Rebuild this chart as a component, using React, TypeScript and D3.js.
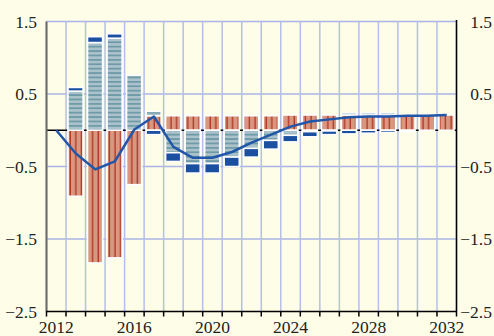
import React from "react";
import * as d3 from "d3";

const years = ["2012","2013","2014","2015","2016","2017","2018","2019","2020","2021","2022","2023","2024","2025","2026","2027","2028","2029","2030","2031","2032"];
// red, vertically striped series
const seriesRed = [0, -0.91, -1.83, -1.76, -0.75, 0.2, 0.2, 0.2, 0.2, 0.2, 0.2, 0.2, 0.21, 0.21, 0.21, 0.21, 0.21, 0.21, 0.21, 0.21, 0.21];
// blue-grey, horizontally striped series
const seriesGrey = [0, 0.54, 1.21, 1.27, 0.76, 0.06, -0.31, -0.46, -0.46, -0.37, -0.25, -0.14, -0.07, -0.02, -0.01, 0.03, 0.03, 0.03, 0, 0, 0];
// dark blue solid series
const seriesBlue = [0, 0.05, 0.08, 0.06, 0, -0.06, -0.12, -0.13, -0.13, -0.13, -0.12, -0.12, -0.09, -0.07, -0.05, -0.05, -0.04, -0.03, -0.02, 0, 0];
// total line
const lineTotal = [0, -0.32, -0.54, -0.43, 0.01, 0.19, -0.23, -0.38, -0.38, -0.30, -0.17, -0.06, 0.05, 0.12, 0.15, 0.18, 0.19, 0.19, 0.20, 0.20, 0.21];
const yTicks = [1.5, 0.5, -0.5, -1.5, -2.5];
const xLabels = ["2012", "2016", "2020", "2024", "2028", "2032"];

const W = 494, H = 336;
const BG = "#fefde7";

export default function App() {
  const x = d3.scaleBand<string>().domain(years).range([46.5, 456.5]).padding(0);
  const y = d3.scaleLinear().domain([-2.5, 1.5]).range([311.5, 21.5]);
  const bw = x.bandwidth();

  const table = years.map((yr, i) => ({ year: yr, red: seriesRed[i], grey: seriesGrey[i], blue: seriesBlue[i] }));
  const keys = ["red", "grey", "blue"];
  const stacked = d3.stack<any>().keys(keys).offset(d3.stackOffsetDiverging)(table);
  const fills: Record<string, string> = { red: "url(#redPat)", grey: "url(#greyPat)", blue: "#1b4f9f" };

  const line = d3.line<number>()
    .x((_, i) => (x(years[i]) as number) + bw / 2)
    .y((d) => y(d));

  const bounds = years.map((yr) => x(yr) as number).concat([(x(years[years.length - 1]) as number) + bw]);
  const textStyle = { fontFamily: '"Liberation Serif", "Times New Roman", Times, serif', fontSize: "17.5px" };

  return (
    <svg width={W} height={H} style={{ position: "absolute", left: 0, top: 0, background: BG }}>
      <defs>
        <pattern id="redPat" patternUnits="userSpaceOnUse" width={5.6} height={10}>
          <rect width={5.6} height={10} fill="#d9977f" />
          <rect x={2.4} width={1.3} height={10} fill="#ad3424" />
        </pattern>
        <pattern id="greyPat" patternUnits="userSpaceOnUse" width={10} height={4.4}>
          <rect width={10} height={4.4} fill="#abc2ca" />
          <rect y={2} width={10} height={1.3} fill="#5a8c9b" />
        </pattern>
      </defs>
      <rect width={W} height={H} fill={BG} />
      {/* gridlines */}
      {yTicks.slice(0, 4).map((t) => (
        <line key={"h" + t} x1={46.5} x2={456.5} y1={y(t)} y2={y(t)} stroke="#aab4e6" strokeWidth={1.5} />
      ))}
      {bounds.map((b, i) => (
        <line key={"v" + i} x1={b} x2={b} y1={y(1.5)} y2={y(-2.5)} stroke="#b4bfea" strokeWidth={1.5} />
      ))}
      {/* zero line */}
      <line x1={46.5} x2={456.5} y1={y(0)} y2={y(0)} stroke="#000" strokeWidth={1.5} />
      {/* bars */}
      {stacked.map((s) => (
        <g key={s.key}>
          {s.map((d, i) => {
            const h = Math.abs(y(d[0]) - y(d[1]));
            if (h < 0.5) return null;
            return (
              <rect key={i} x={(x(years[i]) as number) + 2} width={bw - 4.5}
                y={Math.min(y(d[0]), y(d[1]))} height={h}
                fill={fills[s.key]} stroke="#ffffff" strokeWidth={1.5} />
            );
          })}
        </g>
      ))}
      {/* total line */}
      <path d={line(lineTotal) || ""} fill="none" stroke="#2156a8" strokeWidth={2.5} strokeLinejoin="round" />
      {/* axes */}
      <line x1={46.5} x2={46.5} y1={y(1.5)} y2={y(-2.5)} stroke="#6b6b6b" strokeWidth={2} />
      <line x1={456.5} x2={456.5} y1={20} y2={y(-2.5)} stroke="#000" strokeWidth={1.5} />
      <line x1={46} x2={457} y1={y(-2.5)} y2={y(-2.5)} stroke="#000" strokeWidth={1.5} />
      {bounds.map((b, i) => (
        <line key={"t" + i} x1={b} x2={b} y1={y(-2.5)} y2={y(-2.5) + 5} stroke="#000" strokeWidth={1.5} />
      ))}
      {yTicks.map((t) => (
        <g key={"yl" + t} fill="#222">
          <text x={37} y={y(t) + 6} textAnchor="end" style={textStyle}>{d3.format(".1f")(t)}</text>
          <text x={492} y={y(t) + 6} textAnchor="end" style={textStyle}>{d3.format(".1f")(t)}</text>
        </g>
      ))}
      {xLabels.map((l) => (
        <text key={l} x={(x(l) as number) + bw / 2} y={333} textAnchor="middle" fill="#222" style={textStyle}>{l}</text>
      ))}
    </svg>
  );
}
